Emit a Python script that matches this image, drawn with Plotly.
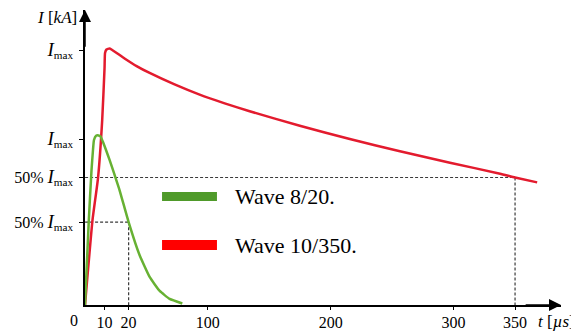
import plotly.graph_objects as go

# ---- data (t in µs on schematic axis, current in % of red I_max) ----
red_t = [0, 6.1, 10.6, 14.0, 15.9, 16.3, 17.5, 20.0, 21.6, 32.2, 42.0, 52.6, 72.9, 93.3,
         113.7, 134.0, 174.8, 215.5, 256.3, 297.0, 337.8, 350.0, 368.0]
red_i = [0, 33.3, 49.8, 72.5, 92.9, 98.8, 100.2, 100.6, 100.2, 96.7, 93.7, 91.0, 86.5, 82.5,
         79.1, 76.0, 70.3, 65.1, 60.3, 55.8, 51.5, 50.0, 48.1]

green_t = [0, 3.1, 5.3, 6.5, 7.3, 9.0, 11.0, 12.6, 14.3, 17.1, 20.0, 24.1, 28.1, 35.5,
           44.4, 52.6, 60.8, 68.9, 79.2]
green_i = [0, 33.3, 52.9, 60.8, 64.7, 66.4, 66.5, 66.1, 64.3, 60.8, 56.9, 51.0, 45.1, 32.5,
           19.6, 11.0, 5.5, 2.4, 0.6]

x_tick_vals = [15.9, 35.5, 100, 200, 300, 350]
x_tick_text = ["10", "20", "100", "200", "300", "350"]

red_imax = 100
green_imax = 65
y_tick_vals = [green_imax / 2, red_imax / 2, green_imax, red_imax]
IMAX = '<span style="font-size:19px"><i>I</i></span><sub>max</sub>'
y_tick_text = ["50% " + IMAX, "50% " + IMAX, IMAX, IMAX]

legend_names = ["Wave 8/20.", "Wave 10/350."]

FONT = "Liberation Serif"
RED = "#e31b2e"
GREEN = "#67b133"

fig = go.Figure()
fig.add_trace(go.Scatter(x=red_t, y=red_i, mode="lines",
                         line=dict(color=RED, width=2.5, shape="spline", smoothing=0.4),
                         showlegend=False))
fig.add_trace(go.Scatter(x=green_t, y=green_i, mode="lines",
                         line=dict(color=GREEN, width=2.5, shape="spline", smoothing=0.4),
                         showlegend=False))

XMAX = 387.4
YMAX = 115.7

dash = dict(color="#3a3a3a", width=1.2, dash="3px,2px")
shapes = [
    dict(type="line", xref="x", yref="y", x0=-4, y0=red_imax / 2, x1=350, y1=red_imax / 2, line=dash, layer="below"),
    dict(type="line", xref="x", yref="y", x0=350, y0=red_imax / 2, x1=350, y1=0, line=dash, layer="below"),
    dict(type="line", xref="x", yref="y", x0=-4, y0=green_imax / 2, x1=35.5, y1=green_imax / 2, line=dash, layer="below"),
    dict(type="line", xref="x", yref="y", x0=35.5, y0=green_imax / 2, x1=35.5, y1=0, line=dash, layer="below"),
    # legend bars
    dict(type="rect", xref="x", yref="y", x0=62.7, x1=107.4, y0=40.8, y1=44.3,
         line=dict(width=0), fillcolor="#4f9a2a"),
    dict(type="rect", xref="x", yref="y", x0=62.7, x1=107.4, y0=21.6, y1=25.5,
         line=dict(width=0), fillcolor="#ff0000"),
]

annotations = [
    # axis arrowheads
    dict(x=XMAX, y=0, ax=XMAX - 30, ay=0, xref="x", yref="y", axref="x", ayref="y",
         showarrow=True, arrowhead=2, arrowsize=1.6, arrowwidth=1.5, arrowcolor="black", text=""),
    dict(x=0, y=YMAX, ax=0, ay=YMAX - 15, xref="x", yref="y", axref="x", ayref="y",
         showarrow=True, arrowhead=2, arrowsize=1.6, arrowwidth=1.5, arrowcolor="black", text=""),
    # origin label
    dict(x=-0.0231, y=0, xref="paper", yref="paper", xanchor="center", yanchor="top", yshift=-5,
         showarrow=False, text="0", font=dict(family=FONT, size=16, color="black")),
    # axis titles
    dict(x=-0.0126, y=0.976, xref="paper", yref="paper", xanchor="right", yanchor="middle",
         showarrow=False, text="<i>I</i> [<i>kA</i>]", font=dict(family=FONT, size=17, color="black")),
    dict(x=0.9475, y=0, xref="paper", yref="paper", xanchor="left", yanchor="top", yshift=-5,
         showarrow=False, text="<i>t</i> [<i>µs</i>]", font=dict(family=FONT, size=17, color="black")),
    # legend text
    dict(x=120.5, y=42.5, xref="x", yref="y", xanchor="left", yanchor="middle",
         showarrow=False, text=legend_names[0], font=dict(family=FONT, size=22, color="black")),
    dict(x=120.5, y=23.5, xref="x", yref="y", xanchor="left", yanchor="middle",
         showarrow=False, text=legend_names[1], font=dict(family=FONT, size=22, color="black")),
]

# the page body has an 8px margin, so the figure is sized to fit inside the window
fig.update_layout(
    width=571, height=324,
    margin=dict(l=77, r=18, t=2, b=27, autoexpand=False),
    paper_bgcolor="white", plot_bgcolor="white",
    showlegend=False,
    shapes=shapes, annotations=annotations,
    xaxis=dict(range=[0, XMAX], showgrid=False, zeroline=False, showline=True, automargin=False,
               linecolor="black", linewidth=1.5, ticks="outside", ticklen=3,
               tickcolor="black", tickwidth=1, ticklabelstandoff=-1,
               tickvals=x_tick_vals, ticktext=x_tick_text,
               tickfont=dict(family=FONT, size=16, color="black")),
    yaxis=dict(range=[0, YMAX], showgrid=False, zeroline=False, showline=True, automargin=False,
               linecolor="black", linewidth=1.5, ticks="outside", ticklen=4,
               tickcolor="black", tickwidth=1, ticklabelstandoff=3,
               tickvals=y_tick_vals, ticktext=y_tick_text,
               tickfont=dict(family=FONT, size=16, color="black")),
)

fig.write_html("out.html")
